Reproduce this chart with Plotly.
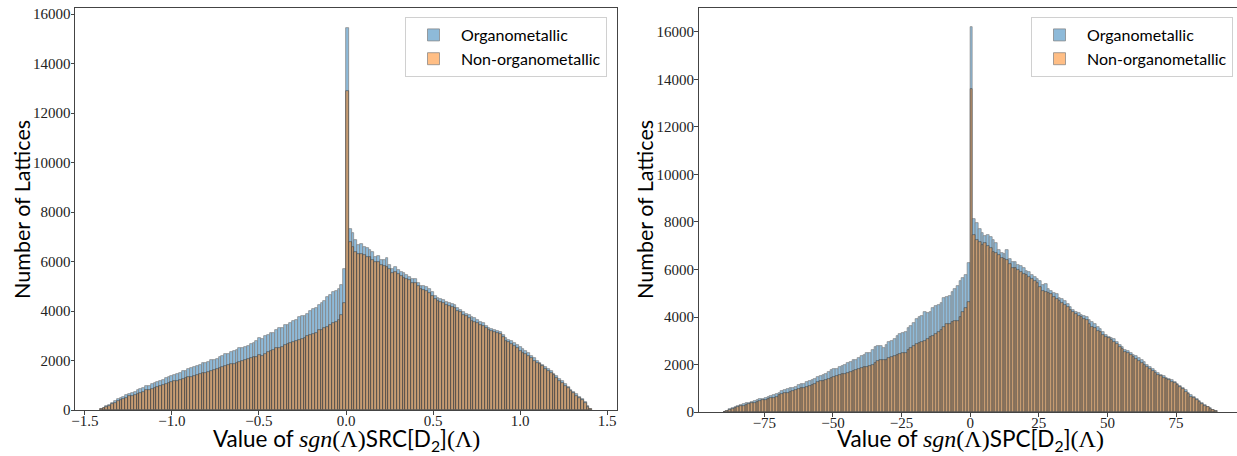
import numpy as np
import plotly.graph_objects as go

# ---------------- data ----------------
# Left panel: sgn(Λ)SRC[D2](Λ), 174 equal bins on [-1.415, 1.415]
SRC_RANGE = (-1.415, 1.415)
SRC_NBINS = 174
src_organo = [
    # negative side (87 bins)
    30, 80, 150, 210, 280, 350, 430, 470, 540, 600,
    650, 700, 740, 790, 850, 900, 960, 990, 1040, 1080,
    1120, 1180, 1220, 1290, 1320, 1370, 1420, 1450, 1510, 1560,
    1590, 1640, 1680, 1740, 1780, 1830, 1880, 1900, 1950, 2010,
    2030, 2080, 2130, 2200, 2250, 2280, 2360, 2380, 2440, 2490,
    2500, 2560, 2590, 2680, 2720, 2800, 2900, 2880, 2980, 3020,
    3100, 3120, 3230, 3320, 3300, 3420, 3450, 3520, 3600, 3620,
    3760, 3780, 3800, 3900, 4010, 4080, 4130, 4250, 4310, 4400,
    4570, 4640, 4760, 4800, 4900, 5050, 5690,
    # zero / positive side (87 bins)
    15450, 7310, 7140, 6870, 6670, 6720, 6600, 6530, 6450, 6380,
    6200, 6230, 6080, 6050, 6150, 5880, 5720, 5800, 5650, 5560,
    5520, 5440, 5390, 5300, 5280, 5140, 5020, 5010, 4980, 4880,
    4750, 4620, 4520, 4500, 4460, 4360, 4320, 4280, 4240, 4120,
    4060, 3970, 3900, 3840, 3770, 3700, 3620, 3550, 3500, 3380,
    3300, 3280, 3240, 3200, 3140, 3020, 2900, 2850, 2770, 2700,
    2620, 2550, 2480, 2400, 2300, 2200, 2100, 2000, 1920, 1820,
    1740, 1640, 1560, 1470, 1370, 1260, 1160, 1040, 930, 820,
    720, 630, 530, 440, 320, 150, 40,
]
src_nonorgano = [
    25, 65, 125, 175, 230, 290, 360, 390, 450, 500,
    550, 580, 620, 660, 700, 740, 790, 820, 860, 900,
    930, 980, 1030, 1060, 1090, 1130, 1160, 1190, 1220, 1260,
    1290, 1330, 1350, 1380, 1410, 1450, 1490, 1510, 1550, 1590,
    1620, 1650, 1690, 1720, 1770, 1800, 1840, 1870, 1900, 1950,
    1980, 2020, 2050, 2090, 2130, 2160, 2220, 2200, 2280, 2330,
    2370, 2420, 2490, 2520, 2540, 2620, 2650, 2700, 2760, 2790,
    2850, 2880, 2930, 2980, 3030, 3090, 3130, 3220, 3240, 3300,
    3370, 3420, 3500, 3560, 3640, 3840, 4310,
    12900, 6800, 6600, 6400, 6290, 6300, 6250, 6200, 6180, 6080,
    5990, 6000, 5880, 5820, 5780, 5700, 5520, 5560, 5480, 5400,
    5350, 5290, 5250, 5150, 5120, 5000, 4880, 4850, 4810, 4740,
    4620, 4500, 4410, 4380, 4330, 4250, 4220, 4170, 4130, 4010,
    3950, 3860, 3790, 3700, 3600, 3560, 3500, 3430, 3380, 3300,
    3230, 3200, 3150, 3100, 3060, 2950, 2790, 2760, 2680, 2600,
    2500, 2400, 2320, 2250, 2180, 2090, 1990, 1910, 1840, 1760,
    1670, 1570, 1490, 1400, 1300, 1190, 1090, 980, 870, 760,
    670, 580, 490, 400, 290, 130, 35,
]

# Right panel: sgn(Λ)SPC[D2](Λ), 180 unit bins on [-90, 90]
SPC_RANGE = (-90.0, 90.0)
SPC_NBINS = 180
spc_organo = [
    20, 60, 110, 150, 210, 250, 280, 320, 370, 400,
    440, 480, 500, 540, 560, 610, 640, 690, 720, 760,
    820, 870, 920, 950, 990, 1030, 1070, 1130, 1180, 1200,
    1250, 1290, 1340, 1400, 1460, 1500, 1540, 1600, 1680, 1760,
    1790, 1820, 1880, 1950, 2000, 2060, 2120, 2180, 2210, 2290,
    2350, 2420, 2470, 2480, 2600, 2720, 2780, 2760, 2700, 2820,
    2950, 3000, 3060, 3180, 3300, 3320, 3380, 3550, 3630, 3760,
    3900, 4000, 4050, 4200, 4180, 4230, 4380, 4450, 4500, 4600,
    4780, 4850, 4870, 5050, 5200, 5300, 5500, 5650, 5750, 6290,
    16200, 8110, 7940, 7700, 7530, 7410, 7450, 7350, 7240, 7100,
    6820, 6700, 6640, 6820, 6450, 6330, 6300, 6200, 6150, 6050,
    5950, 5900, 5760, 5680, 5620, 5500, 5350, 5380, 5200, 5100,
    5020, 4950, 4810, 4760, 4660, 4560, 4420, 4300, 4200, 4180,
    4100, 4050, 3980, 3880, 3800, 3700, 3600, 3480, 3370, 3250,
    3170, 3120, 3060, 2950, 2830, 2720, 2610, 2560, 2480, 2420,
    2350, 2290, 2190, 2100, 1990, 1900, 1820, 1720, 1630, 1560,
    1500, 1450, 1380, 1330, 1280, 1200, 1100, 1020, 920, 820,
    720, 640, 560, 480, 400, 310, 220, 150, 90, 40,
]
spc_nonorgano = [
    15, 50, 90, 130, 170, 200, 240, 270, 310, 340,
    370, 400, 420, 460, 490, 520, 550, 590, 610, 650,
    700, 740, 780, 800, 840, 870, 910, 960, 1000, 1020,
    1060, 1100, 1140, 1200, 1270, 1290, 1310, 1350, 1400, 1450,
    1470, 1500, 1540, 1580, 1620, 1660, 1670, 1720, 1760, 1800,
    1850, 1880, 1900, 1930, 2000, 2050, 2150, 2190, 2180, 2200,
    2260, 2300, 2350, 2380, 2440, 2480, 2500, 2600, 2680, 2770,
    2860, 2900, 2940, 3000, 3080, 3160, 3200, 3300, 3380, 3450,
    3560, 3700, 3720, 3780, 3840, 3850, 3980, 4220, 4400, 4640,
    13600, 7450, 7240, 7170, 7030, 7100, 6980, 6900, 6750, 6700,
    6620, 6500, 6450, 6400, 6250, 6050, 6050, 5980, 5900, 5820,
    5750, 5700, 5600, 5500, 5420, 5250, 5090, 5070, 5000, 4950,
    4850, 4760, 4670, 4600, 4520, 4420, 4300, 4200, 4110, 4050,
    3980, 3930, 3860, 3700, 3590, 3520, 3420, 3350, 3260, 3170,
    3100, 3050, 2960, 2850, 2740, 2650, 2540, 2490, 2400, 2330,
    2250, 2150, 2050, 1980, 1900, 1820, 1740, 1650, 1560, 1500,
    1440, 1400, 1330, 1260, 1210, 1130, 1040, 950, 860, 760,
    650, 570, 500, 430, 350, 270, 200, 130, 80, 35,
]

series_names = ["Organometallic", "Non-organometallic"]
series_colors = ["#1f77b4", "#ff7f0e"]

src_xticks = [-1.5, -1.0, -0.5, 0.0, 0.5, 1.0, 1.5]
src_xticktext = ["\u22121.5", "\u22121.0", "\u22120.5", "0.0", "0.5", "1.0", "1.5"]
spc_xticks = [-75, -50, -25, 0, 25, 50, 75]
spc_xticktext = ["\u221275", "\u221250", "\u221225", "0", "25", "50", "75"]
yticks = [0, 2000, 4000, 6000, 8000, 10000, 12000, 14000, 16000]
yticktext = ["0", "2000", "4000", "6000", "8000", "10000", "12000", "14000", "16000"]
ytitle = "Number of Lattices"

# ---------------- figure ----------------
W, H = 1237, 456
SERIF = "Liberation Serif, DejaVu Serif, serif"
SANS = "Lato, Open Sans, sans-serif"


def bin_geometry(rng, n):
    edges = np.linspace(rng[0], rng[1], n + 1)
    return (edges[:-1] + edges[1:]) / 2.0, edges[1] - edges[0]


fig = go.Figure()
panels = [
    (SRC_RANGE, SRC_NBINS, [src_organo, src_nonorgano], "x", "y", "legend"),
    (SPC_RANGE, SPC_NBINS, [spc_organo, spc_nonorgano], "x2", "y2", "legend2"),
]
for rng, nb, data, xa, ya, lg in panels:
    centers, width = bin_geometry(rng, nb)
    for name, color, vals in zip(series_names, series_colors, data):
        fig.add_trace(go.Bar(
            x=centers, y=vals, width=width, name=name,
            marker=dict(color=color, line=dict(color="black", width=0.7)),
            opacity=0.5, xaxis=xa, yaxis=ya, legend=lg, hoverinfo="skip",
        ))

axis_common = dict(
    showgrid=False, zeroline=False, showline=True, linecolor="#444", linewidth=1,
    ticks="outside", ticklen=3.5, tickwidth=0.8, tickcolor="#444",
    tickfont=dict(family=SERIF, size=15, color="#222"), automargin=False,
)


def xtitle(kind):
    s = "font-family:Liberation Serif;font-size:24px"
    return ("Value of <span style='%s'><i>sgn</i>(\u039b)</span>%s[D<sub>2</sub>]"
            "<span style='%s'>(\u039b)</span>" % (s, kind, s))


xtitle_font = dict(family=SANS, size=22.5, color="black")
ytitle_font = dict(family=SANS, size=21.5, color="black")

fig.update_layout(
    width=W, height=H, margin=dict(l=0, r=0, t=0, b=0),
    paper_bgcolor="white", plot_bgcolor="white",
    barmode="overlay", bargap=0, showlegend=True,
    xaxis=dict(domain=[75 / W, 617 / W], range=[-1.557, 1.557],
               tickvals=src_xticks, ticktext=src_xticktext, mirror=True,
               ticklabelstandoff=-7, anchor="y", **axis_common),
    yaxis=dict(domain=[1 - 410 / H, 1 - 8 / H], range=[0, 16250],
               tickvals=yticks, ticktext=yticktext, mirror=True,
               ticklabelstandoff=-3, anchor="x", **axis_common),
    xaxis2=dict(domain=[698.5 / W, 1.0], range=[-99.0, 97.2],
                tickvals=spc_xticks, ticktext=spc_xticktext, mirror=True,
                ticklabelstandoff=-7, anchor="y2", **axis_common),
    yaxis2=dict(domain=[1 - 412 / H, 1 - 8 / H], range=[0, 17010],
                tickvals=yticks, ticktext=yticktext, mirror=False,
                ticklabelstandoff=-3, anchor="x2", **axis_common),
    legend=dict(x=607 / W, xanchor="right", y=1 - 17 / H, yanchor="top",
                bgcolor="white", bordercolor="#d0d0d0", borderwidth=1,
                font=dict(family=SANS, size=16, color="black"), itemwidth=45,
                tracegroupgap=0),
    legend2=dict(x=1233 / W, xanchor="right", y=1 - 17 / H, yanchor="top",
                 bgcolor="white", bordercolor="#d0d0d0", borderwidth=1,
                 font=dict(family=SANS, size=16, color="black"), itemwidth=45,
                 tracegroupgap=0),
)

# axis titles placed as annotations for exact positioning
for xc, kind in [(346 / W, "SRC"), (970 / W, "SPC")]:
    fig.add_annotation(text=xtitle(kind), x=xc, y=1 - 440 / H, xref="paper",
                       yref="paper", xanchor="center", yanchor="middle",
                       showarrow=False, font=xtitle_font)
for xc in [22 / W, 645 / W]:
    fig.add_annotation(text=ytitle, x=xc, y=1 - 210 / H, xref="paper",
                       yref="paper", xanchor="center", yanchor="middle",
                       textangle=-90, showarrow=False, font=ytitle_font)

fig.write_html(
    "out.html",
    config={"displayModeBar": False},
    post_script="document.body.style.margin='0';document.body.style.overflow='hidden';",
)
